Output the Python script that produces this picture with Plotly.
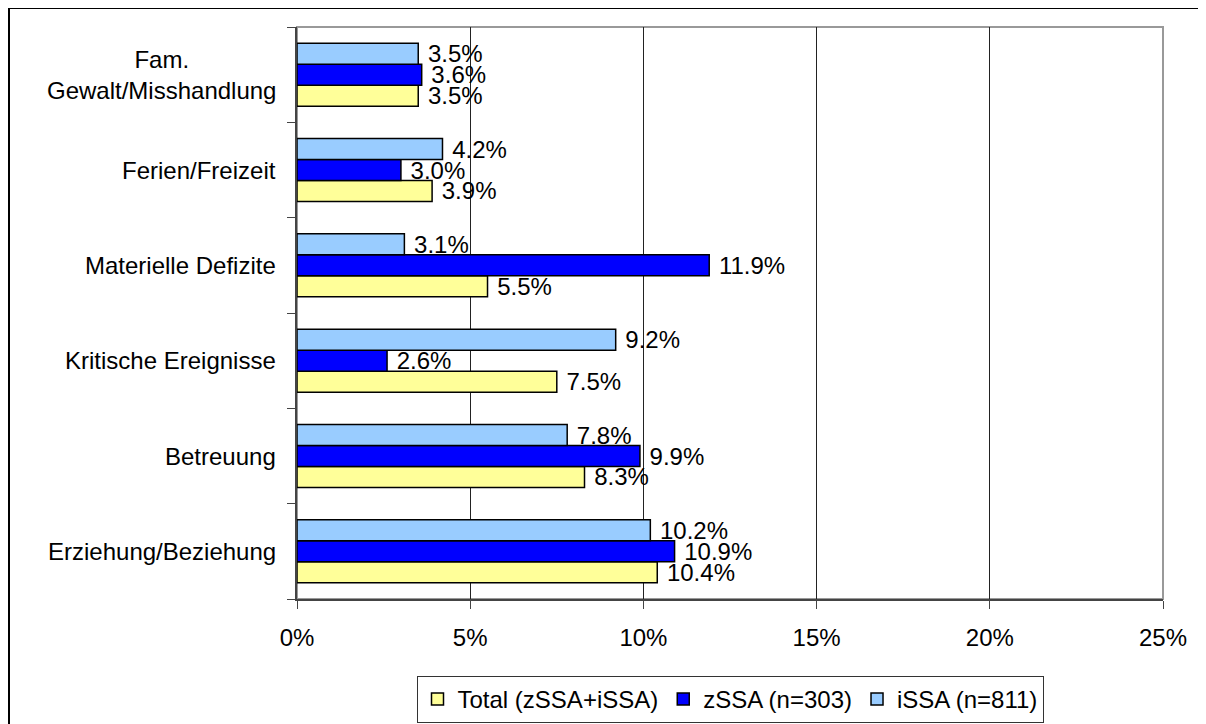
import plotly.graph_objects as go

categories = ["Erziehung/Beziehung", "Betreuung", "Kritische Ereignisse",
              "Materielle Defizite", "Ferien/Freizeit", "Fam.<br>Gewalt/Misshandlung"]
total_vals = [10.4, 8.3, 7.5, 5.5, 3.9, 3.5]
zssa_vals = [10.9, 9.9, 2.6, 11.9, 3.0, 3.6]
issa_vals = [10.2, 7.8, 9.2, 3.1, 4.2, 3.5]
series_names = ["Total (zSSA+iSSA)", "zSSA (n=303)", "iSSA (n=811)"]
series_colors = ["#FFFF99", "#0000FF", "#99CCFF"]
x_ticks = [0, 5, 10, 15, 20, 25]
x_tick_labels = ["0%", "5%", "10%", "15%", "20%", "25%"]

FONT = "Liberation Sans, Arial, sans-serif"
FS = 24

# page body has an 8px margin, so the figure starts at (8, 8)
W, H = 1198, 716
PL, PR, PT, PB = 297, 1163, 27, 599  # plot area in screen pixels


def px_x(x):
    return (x - PL) / (PR - PL)


def px_y(y):
    return (PB - y) / (PB - PT)


fig = go.Figure()
for name, vals, col in zip(series_names, [total_vals, zssa_vals, issa_vals], series_colors):
    fig.add_trace(go.Bar(
        y=categories, x=vals, name=name, orientation="h",
        marker=dict(color=col, line=dict(color="black", width=1.5)),
        text=[f" {v:.1f}%" for v in vals], textposition="outside",
        textfont=dict(family=FONT, size=FS, color="black"),
        constraintext="none", cliponaxis=False,
    ))

fig.update_layout(
    barmode="group", bargap=0.34, bargroupgap=0,
    width=W, height=H,
    margin=dict(l=PL - 8, r=8 + W - PR, t=PT - 8, b=8 + H - PB, pad=0, autoexpand=False),
    paper_bgcolor="white", plot_bgcolor="white",
    font=dict(family=FONT, size=FS, color="black"),
    showlegend=True,
    legend=dict(orientation="h", x=0.5, xanchor="center", y=px_y(676), yanchor="top",
                bordercolor="#333333", borderwidth=1, font=dict(family=FONT, size=FS, color="black"),
                itemwidth=30, traceorder="normal", tracegroupgap=0),
    xaxis=dict(range=[0, 25], tickvals=x_ticks, ticktext=x_tick_labels,
               showgrid=True, gridcolor="#222222", gridwidth=1,
               showline=True, linecolor="#444444", linewidth=1.5,
               ticks="outside", ticklen=8, tickcolor="#444444",
               ticklabelstandoff=8, zeroline=False,
               tickfont=dict(family=FONT, size=FS, color="black")),
    yaxis=dict(type="category", categoryorder="array", categoryarray=categories,
               showticklabels=False, showline=True, linecolor="#444444", linewidth=1.5,
               ticks="outside", ticklen=8, tickcolor="#444444", tickson="boundaries",
               showgrid=False),
)

for c in categories:
    fig.add_annotation(x=px_x(278), xref="paper", y=c, yref="y", text=c,
                       xanchor="right", yanchor="middle", align="center",
                       showarrow=False, font=dict(family=FONT, size=FS, color="black"))

# plot area border (top/right) in gray
fig.add_shape(type="rect", xref="paper", yref="paper", x0=0, x1=1, y0=0, y1=1,
              line=dict(color="#999999", width=2), layer="below")
# outer chart border (extends past right and bottom edges)
fig.add_shape(type="rect", xref="paper", yref="paper",
              x0=px_x(9), x1=px_x(1230),
              y0=px_y(750), y1=px_y(8),
              line=dict(color="black", width=2))

fig.write_html("out.html")
